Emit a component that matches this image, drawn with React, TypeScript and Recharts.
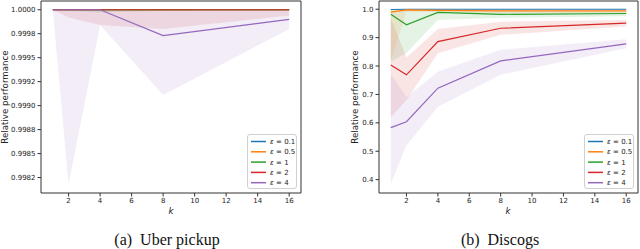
import { ComposedChart, Area, Line, XAxis, YAxis, ReferenceArea } from 'recharts'

const K_VALUES = [1, 2, 4, 8, 16]
const K_TICKS = [2, 4, 6, 8, 10, 12, 14, 16]
const EPS_LABELS = ['0.1', '0.5', '1', '2', '4']
const EPS_COLORS = ['#1f77b4', '#ff7f0e', '#2ca02c', '#d62728', '#9467bd']

// (a) Uber pickup
const UBER_Y_TICKS = [0.99825, 0.9985, 0.99875, 0.999, 0.99925, 0.9995, 0.99975, 1.0]
const UBER_Y_LABELS = ['0.9982', '0.9985', '0.9988', '0.9990', '0.9992', '0.9995', '0.9998', '1.0000']
const uberMean = [
  [1, 1, 1, 1, 1],
  [1, 1, 1, 1, 1],
  [1, 1, 1, 1, 1],
  [1, 1, 1, 1, 1],
  [1, 1, 1, 0.99973, 0.9999],
]
const uberLow = [
  [1, 1, 1, 1, 1],
  [1, 1, 1, 0.99999, 1],
  [1, 0.99999, 0.99997, 0.99999, 1],
  [1, 0.99992, 0.99984, 0.9998, 0.99994],
  [1, 0.99818, 0.99984, 0.99911, 0.9998],
]
const uberHigh = [
  [1, 1, 1, 1, 1],
  [1, 1, 1, 1, 1],
  [1, 1, 1, 1, 1],
  [1, 1, 1, 1, 1],
  [1, 1, 1, 1, 1],
]

// (b) Discogs
const DISCOGS_Y_TICKS = [0.4, 0.5, 0.6, 0.7, 0.8, 0.9, 1.0]
const DISCOGS_Y_LABELS = ['0.4', '0.5', '0.6', '0.7', '0.8', '0.9', '1.0']
const discogsMean = [
  [0.999, 1, 1, 1, 1],
  [0.99, 0.998, 0.996, 0.994, 0.994],
  [0.982, 0.945, 0.989, 0.982, 0.985],
  [0.804, 0.769, 0.886, 0.933, 0.951],
  [0.583, 0.604, 0.722, 0.818, 0.878],
]
const discogsLow = [
  [0.997, 0.999, 0.999, 0.999, 0.999],
  [0.82, 0.99, 0.99, 0.985, 0.988],
  [0.815, 0.846, 0.962, 0.97, 0.975],
  [0.62, 0.68, 0.845, 0.91, 0.939],
  [0.385, 0.52, 0.657, 0.769, 0.863],
]
const discogsHigh = [
  [1, 1, 1, 1, 1],
  [1, 1, 1, 1, 1],
  [1, 1, 1, 0.995, 0.995],
  [0.97, 0.83, 0.93, 0.956, 0.962],
  [0.77, 0.69, 0.78, 0.857, 0.894],
]

const FONT = '"DejaVu Sans", sans-serif'
const TICK = { fill: '#222', fontSize: 7, fontFamily: FONT }
const AXIS_LINE = { stroke: '#333', strokeWidth: 1 }
const X_DOMAIN: [number, number] = [0.25, 16.75]

const buildRows = (mean: number[][], low: number[][], high: number[][]) =>
  K_VALUES.map((k, i) => {
    const row: Record<string, any> = { k }
    EPS_LABELS.forEach((_, j) => {
      row[`m${j}`] = mean[j][i]
      row[`b${j}`] = [low[j][i], high[j][i]]
    })
    return row
  })

type PanelProps = {
  left: number
  width: number
  yAxisWidth: number
  marginRight: number
  rows: Record<string, any>[]
  yDomain: [number, number]
  yTicks: number[]
  yLabels: string[]
}

const Panel = ({ left, width, yAxisWidth, marginRight, rows, yDomain, yTicks, yLabels }: PanelProps) => (
  <div style={{ position: 'absolute', left, top: 0 }}>
    <ComposedChart width={width} height={214} data={rows} margin={{ top: 1, right: marginRight, left: 0, bottom: 0 }}>
      <XAxis dataKey="k" type="number" domain={X_DOMAIN} ticks={K_TICKS} allowDataOverflow
        tick={TICK} tickSize={3.5} tickMargin={2} height={21} axisLine={false} tickLine={AXIS_LINE} />
      <YAxis type="number" domain={yDomain} ticks={yTicks} allowDataOverflow width={yAxisWidth}
        tick={TICK} tickSize={3.5} tickMargin={2} axisLine={false} tickLine={AXIS_LINE}
        tickFormatter={(v: number) => yLabels[yTicks.indexOf(v)] ?? ''} />
      {EPS_LABELS.map((_, j) => (
        <Area key={`b${j}`} type="linear" dataKey={`b${j}`} stroke="none" fill={EPS_COLORS[j]}
          fillOpacity={0.12} isAnimationActive={false} dot={false} activeDot={false} />
      ))}
      {EPS_LABELS.map((_, j) => (
        <Line key={`m${j}`} type="linear" dataKey={`m${j}`} stroke={EPS_COLORS[j]} strokeWidth={1.2}
          dot={false} activeDot={false} isAnimationActive={false} />
      ))}
      <ReferenceArea x1={X_DOMAIN[0]} x2={X_DOMAIN[1]} y1={yDomain[0]} y2={yDomain[1]}
        fill="none" fillOpacity={0} stroke="#333" strokeWidth={1} ifOverflow="visible" />
    </ComposedChart>
  </div>
)

const LegendBox = ({ left }: { left: number }) => (
  <svg style={{ position: 'absolute', left, top: 134, overflow: 'visible' }} width={50} height={55}>
    <rect x={0.5} y={0.5} width={49} height={54} rx={2.5} fill="rgba(255,255,255,0.8)" stroke="#d0d0d0" />
    {EPS_LABELS.map((eps, j) => {
      const cy = 7.5 + j * 10.3
      return (
        <g key={eps}>
          <line x1={4} x2={19} y1={cy} y2={cy} stroke={EPS_COLORS[j]} strokeWidth={1.5} />
          <text x={23} y={cy} dy="0.35em" fontFamily={FONT} fontSize={7} fill="#222">
            <tspan fontStyle="italic">ε</tspan> = {eps}
          </text>
        </g>
      )
    })}
  </svg>
)

const YTitle = ({ cx }: { cx: number }) => (
  <div style={{
    position: 'absolute', left: cx - 60, top: 97 - 6, width: 120, height: 12, lineHeight: '12px',
    textAlign: 'center', transform: 'rotate(-90deg)', fontFamily: FONT, fontSize: 8.7, color: '#222',
  }}>Relative performance</div>
)

const XTitle = ({ cx }: { cx: number }) => (
  <div style={{
    position: 'absolute', left: cx - 10, top: 205, width: 20, lineHeight: '12px', textAlign: 'center',
    fontFamily: FONT, fontSize: 8.7, fontStyle: 'italic', color: '#222',
  }}>k</div>
)

const Caption = ({ cx, text }: { cx: number; text: string }) => (
  <div style={{
    position: 'absolute', left: cx - 80, top: 231, width: 160, lineHeight: '18px', textAlign: 'center',
    fontFamily: '"Liberation Serif", serif', fontSize: 16, color: '#111', whiteSpace: 'pre',
  }}>{text}</div>
)

export default function App() {
  const uberRows = buildRows(uberMean, uberLow, uberHigh)
  const discogsRows = buildRows(discogsMean, discogsLow, discogsHigh)
  return (
    <div style={{ position: 'absolute', left: 0, top: 0, width: 640, height: 249, background: '#fff', overflow: 'hidden' }}>
      <Panel left={0} width={310} yAxisWidth={41} marginRight={9} rows={uberRows}
        yDomain={[0.998089, 1.000091]} yTicks={UBER_Y_TICKS} yLabels={UBER_Y_LABELS} />
      <Panel left={320} width={320} yAxisWidth={59} marginRight={2} rows={discogsRows}
        yDomain={[0.353, 1.029]} yTicks={DISCOGS_Y_TICKS} yLabels={DISCOGS_Y_LABELS} />
      <LegendBox left={247} />
      <LegendBox left={584} />
      <YTitle cx={5} />
      <YTitle cx={355} />
      <XTitle cx={171} />
      <XTitle cx={508} />
      <Caption cx={167} text="(a)  Uber pickup" />
      <Caption cx={500} text="(b)  Discogs" />
    </div>
  )
}
